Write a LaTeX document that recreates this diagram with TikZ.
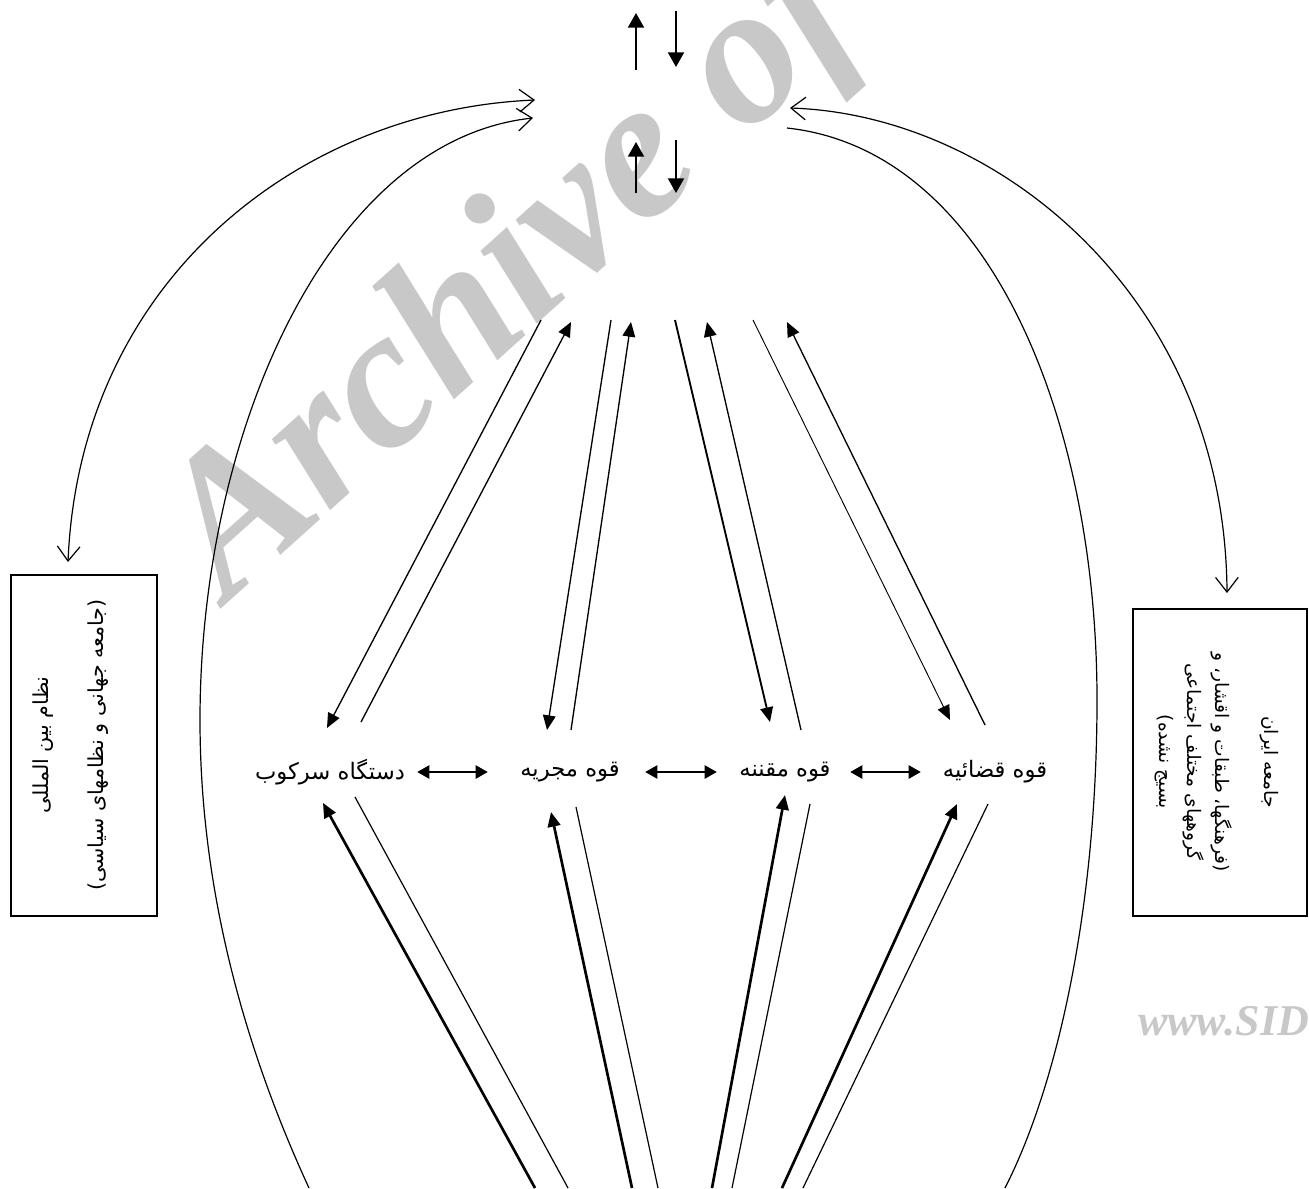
\documentclass[tikz,border=0pt]{standalone}
\usepackage{fontspec}
\setmainfont{Liberation Serif}
\newfontfamily\arabicfont[Script=Arabic]{DejaVu Sans}
\TeXXeTstate=1
\usetikzlibrary{arrows.meta}
\definecolor{wmgray}{RGB}{200,200,200}
\tikzset{
  openbarb/.tip={Straight Barb[length=11pt,width=17pt,line width=0.9pt]},
  tri/.tip={Triangle[length=11pt,width=9.5pt]},
  vtri/.tip={Triangle[length=11pt,width=12pt]},
  dtri/.tip={Triangle[length=9pt,width=10pt]}
}
\begin{document}
\begin{tikzpicture}[x=0.75pt,y=-0.75pt,
  wm/.style={text=wmgray,inner sep=0,font=\fontsize{150}{150}\selectfont\bfseries\itshape},
  wmsmall/.style={text=wmgray,inner sep=0,font=\fontsize{33}{33}\selectfont\bfseries\itshape},
  lbl/.style={inner sep=0,font=\arabicfont\fontsize{17}{20}\selectfont},
  boxnode/.style={draw,line width=1.1pt,inner sep=0},
  boxtext/.style={inner sep=0,align=center},
  curve/.style={line width=0.9pt},
  upline/.style={line width=1pt,-tri},
  thinline/.style={line width=0.9pt},
  thickarr/.style={line width=2pt,-tri},
  vert/.style={line width=1.6pt,-vtri},
  dbl/.style={line width=0.9pt,dtri-dtri}
]
\useasboundingbox (0,0) rectangle (1309,1188);
% watermark
\begin{scope}
\clip (0,0) rectangle (1309,1188);
\node[wm,rotate=42,anchor=base west] (wmark) at (228,603) {Archive of};
\node[wmsmall,anchor=base west] (sid) at (1138,1035) {www.SID.ir};
\end{scope}

% top vertical arrows
\coordinate (va1s) at (636,70);  \coordinate (va1e) at (636,13);
\coordinate (vb1s) at (676,11);  \coordinate (vb1e) at (676,67);
\coordinate (va2s) at (636,193); \coordinate (va2e) at (636,142);
\coordinate (vb2s) at (676,140); \coordinate (vb2e) at (676,193);
\draw[vert] (va1s) -- (va1e);
\draw[vert] (vb1s) -- (vb1e);
\draw[vert] (va2s) -- (va2e);
\draw[vert] (vb2s) -- (vb2e);

% boxes
\node[boxnode,minimum width=109.5pt,minimum height=255.75pt] (lbox) at (84,745.5) {};
\node[boxtext,rotate=90,font=\arabicfont\fontsize{15.5}{21}\selectfont] (ltext) at (71,745)
  {\beginR نظام بین المللی\endR\\[20pt]\beginR (جامعه جهانی و نظامهای سیاسی)\endR};
\node[boxnode,minimum width=130.5pt,minimum height=230.25pt] (rbox) at (1220,762.5) {};
\node[boxtext,rotate=-90,font=\arabicfont\fontsize{14}{21}\selectfont] (rtext) at (1217,762)
  {\beginR جامعه ایران\endR\\[16pt]\beginR (فرهنگها، طبقات و اقشار، و\endR\\\beginR گروههای مختلف اجتماعی\endR\\\beginR بسیج نشده)\endR};

% big curves
\coordinate (lo1) at (535,100); \coordinate (lo2) at (68,562);
\coordinate (li1) at (533,118); \coordinate (li2) at (309,1188);
\coordinate (ro1) at (790,108); \coordinate (ro2) at (1227,593);
\coordinate (ri1) at (787,128); \coordinate (ri2) at (1005,1188);
\draw[curve,openbarb-openbarb] (lo1) .. controls (300,110) and (80,280) .. (lo2);
\draw[curve,openbarb-] (li1) .. controls (330,140) and (200,430) .. (200,720) .. controls (200,900) and (250,1060) .. (li2);
\draw[curve,openbarb-openbarb] (ro1) .. controls (1000,115) and (1225,300) .. (ro2);
\draw[curve] (ri1) .. controls (990,150) and (1097,420) .. (1097,700) .. controls (1097,900) and (1060,1080) .. (ri2);

% labels
\node[lbl,minimum width=123pt] (l1) at (330,772) {\beginR دستگاه سرکوب\endR};
\node[lbl,minimum width=112.5pt] (l2) at (570,772) {\beginR قوه مجریه\endR};
\node[lbl,minimum width=97.5pt] (l3) at (785,772) {\beginR قوه مقننه\endR};
\node[lbl,minimum width=105pt] (l4) at (995,772) {\beginR قوه قضائیه\endR};
\draw[dbl,shorten <=3.75pt,shorten >=5.25pt] (l1.east) -- (l2.west);
\draw[dbl,shorten >=2.25pt] (l2.east) -- (l3.west);
\draw[dbl,shorten >=3pt] (l3.east) -- (l4.west);

% upper lines
\coordinate (u1a) at (541,320); \coordinate (m1a) at (327,728);
\coordinate (m1b) at (361,722); \coordinate (u1b) at (571,322);
\coordinate (u2a) at (611,320); \coordinate (m2a) at (547,730);
\coordinate (m2b) at (571,730); \coordinate (u2b) at (631,322);
\coordinate (u3a) at (675,320); \coordinate (m3a) at (770,722);
\coordinate (m3b) at (801,730); \coordinate (u3b) at (707,322);
\coordinate (u4a) at (753,320); \coordinate (m4a) at (950,720);
\coordinate (m4b) at (985,725); \coordinate (u4b) at (787,322);
\draw[upline] (u1a) -- (m1a);
\draw[upline] (m1b) -- (u1b);
\draw[upline] (u2a) -- (m2a);
\draw[upline] (m2b) -- (u2b);
\draw[upline,line width=1.4pt] (u3a) -- (m3a);
\draw[upline] (m3b) -- (u3b);
\draw[upline,line width=0.7pt] (u4a) -- (m4a);
\draw[upline] (m4b) -- (u4b);

% lower lines
\coordinate (b1a) at (535,1188); \coordinate (n1a) at (323,803);
\coordinate (b1b) at (568,1188); \coordinate (n1b) at (355,797);
\coordinate (b2a) at (632,1188); \coordinate (n2a) at (551,812);
\coordinate (b2b) at (658,1188); \coordinate (n2b) at (576,807);
\coordinate (b3a) at (712,1188); \coordinate (n3a) at (785,795);
\coordinate (b3b) at (732,1188); \coordinate (n3b) at (810,804);
\coordinate (b4a) at (782,1188); \coordinate (n4a) at (957,804);
\coordinate (b4b) at (803,1188); \coordinate (n4b) at (988,804);
\draw[thickarr] (b1a) -- (n1a);
\draw[thinline] (b1b) -- (n1b);
\draw[thickarr] (b2a) -- (n2a);
\draw[thinline] (b2b) -- (n2b);
\draw[thickarr] (b3a) -- (n3a);
\draw[thinline] (b3b) -- (n3b);
\draw[thickarr] (b4a) -- (n4a);
\draw[thinline] (b4b) -- (n4b);
\end{tikzpicture}
\end{document}
